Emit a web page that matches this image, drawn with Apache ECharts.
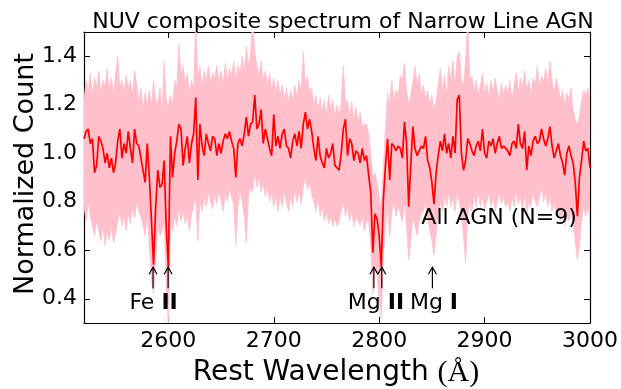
<!DOCTYPE html>
<html>
<head>
<meta charset="utf-8">
<script src="https://cdn.jsdelivr.net/npm/echarts@6/dist/echarts.min.js"></script>
<style>html,body{margin:0;padding:0;background:#fff}#c{width:621px;height:389px}</style>
</head>
<body>
<div id="c"></div>
<script>
// Wavelength grid (Angstrom)
const wavelength = [
2520,2522,2524,2526,2528,2530,2532,2534,2536,2538,2540,2542,2544,2546,2548,2550,2552,2554,2556,2558,
2560,2562,2564,2566,2568,2570,2572,2574,2576,2578,2580,2582,2584,2586,2588,2590,2592,2594,2596,2598,
2600,2602,2604,2606,2608,2610,2612,2614,2616,2618,2620,2622,2624,2626,2628,2630,2632,2634,2636,2638,
2640,2642,2644,2646,2648,2650,2652,2654,2656,2658,2660,2662,2664,2666,2668,2670,2672,2674,2676,2678,
2680,2682,2684,2686,2688,2690,2692,2694,2696,2698,2700,2702,2704,2706,2708,2710,2712,2714,2716,2718,
2720,2722,2724,2726,2728,2730,2732,2734,2736,2738,2740,2742,2744,2746,2748,2750,2752,2754,2756,2758,
2760,2762,2764,2766,2768,2770,2772,2774,2776,2778,2780,2782,2784,2786,2788,2790,2792,2794,2796,2798,
2800,2802,2804,2806,2808,2810,2812,2814,2816,2818,2820,2822,2824,2826,2828,2830,2832,2834,2836,2838,
2840,2842,2844,2846,2848,2850,2852,2854,2856,2858,2860,2862,2864,2866,2868,2870,2872,2874,2876,2878,
2880,2882,2884,2886,2888,2890,2892,2894,2896,2898,2900,2902,2904,2906,2908,2910,2912,2914,2916,2918,
2920,2922,2924,2926,2928,2930,2932,2934,2936,2938,2940,2942,2944,2946,2948,2950,2952,2954,2956,2958,
2960,2962,2964,2966,2968,2970,2972,2974,2976,2978,2980,2982,2984,2986,2988,2990,2992,2994,2996,2998,
3000];

// Composite (mean) normalized count
const meanFlux = [
1.06,1.09,1.10,1.04,1.06,0.92,0.95,1.07,1.05,1.02,0.96,1.00,0.94,0.98,0.92,0.96,1.05,1.10,0.98,1.04,
1.00,1.09,1.02,0.96,1.10,1.04,1.03,0.98,0.93,0.88,1.04,0.90,0.72,0.54,0.78,0.93,0.86,0.87,0.97,0.70,
0.53,1.07,0.90,1.00,1.05,1.12,1.10,0.95,1.02,1.07,0.96,1.04,1.08,1.23,0.89,1.12,1.03,0.99,1.08,1.04,
1.01,1.07,1.06,0.99,1.04,1.00,1.05,1.08,1.06,1.09,1.05,1.02,0.90,1.04,1.06,1.03,1.08,1.15,1.07,1.12,
1.13,1.24,1.10,1.12,1.18,1.04,1.10,1.06,1.02,0.99,1.16,1.03,1.07,1.02,1.08,1.10,1.03,1.02,0.98,1.05,
1.08,1.03,1.09,1.02,1.12,1.17,1.10,1.14,1.09,1.02,0.97,1.07,0.99,0.96,0.94,1.02,0.98,1.00,1.04,0.95,
0.94,0.93,1.00,1.10,1.14,0.99,1.06,1.04,0.97,1.01,1.00,0.96,1.02,0.97,0.99,0.91,0.84,0.59,0.75,0.73,
0.66,0.53,0.81,0.95,1.06,0.89,1.04,1.03,1.01,1.03,1.02,0.98,1.13,1.04,0.78,0.95,1.11,1.02,0.99,1.01,
1.03,1.02,1.07,0.97,0.94,0.88,0.79,0.92,0.99,1.05,1.01,1.08,1.00,1.04,0.98,1.07,1.00,1.22,1.24,1.00,
0.93,0.97,1.06,1.04,1.01,0.99,1.03,1.05,1.01,1.10,1.00,0.98,1.05,1.03,1.06,1.00,1.04,1.07,1.02,1.03,
1.02,1.01,0.99,1.04,1.05,1.02,1.12,1.04,1.02,1.09,0.93,1.03,0.99,1.05,1.07,1.04,1.05,1.10,1.06,1.03,
1.06,1.11,1.03,0.98,1.01,1.04,0.99,0.96,0.91,1.00,1.03,0.99,0.96,0.88,0.74,0.90,0.97,1.05,1.01,1.02,
0.94];

// Upper edge of the spread band
const bandUpper = [
1.22,1.30,1.26,1.33,1.24,1.31,1.27,1.34,1.25,1.30,1.28,1.35,1.26,1.31,1.24,1.33,1.40,1.27,1.30,1.25,
1.32,1.27,1.30,1.24,1.34,1.28,1.22,1.27,1.18,1.25,1.20,1.26,1.19,1.30,1.22,1.20,1.27,1.17,1.38,1.22,
1.20,1.24,1.20,1.30,1.26,1.45,1.32,1.36,1.28,1.33,1.25,1.30,1.27,1.55,1.31,1.36,1.28,1.34,1.30,1.36,
1.29,1.33,1.31,1.36,1.30,1.34,1.28,1.37,1.30,1.35,1.32,1.38,1.30,1.36,1.33,1.40,1.34,1.44,1.36,1.41,
1.55,1.42,1.36,1.32,1.38,1.30,1.34,1.28,1.33,1.26,1.31,1.25,1.30,1.24,1.28,1.22,1.27,1.21,1.26,1.22,
1.28,1.23,1.30,1.25,1.42,1.28,1.32,1.25,1.27,1.20,1.24,1.18,1.23,1.17,1.22,1.16,1.24,1.18,1.22,1.15,
1.20,1.16,1.21,1.36,1.20,1.22,1.15,1.21,1.14,1.19,1.13,1.17,1.11,1.12,1.12,1.08,1.00,0.90,0.92,0.88,
0.82,0.78,0.95,1.10,1.25,1.20,1.30,1.22,1.26,1.24,1.32,1.30,1.37,1.26,1.20,1.24,1.30,1.36,1.28,1.33,
1.24,1.28,1.22,1.26,1.20,1.24,1.18,1.22,1.28,1.35,1.26,1.32,1.24,1.36,1.30,1.38,1.28,1.40,1.42,1.30,
1.28,1.38,1.55,1.30,1.32,1.26,1.30,1.24,1.28,1.33,1.25,1.29,1.23,1.30,1.25,1.31,1.26,1.22,1.29,1.24,
1.28,1.24,1.30,1.22,1.28,1.33,1.25,1.31,1.27,1.34,1.26,1.30,1.24,1.31,1.28,1.36,1.27,1.32,1.29,1.35,
1.28,1.38,1.30,1.25,1.31,1.27,1.22,1.26,1.20,1.25,1.22,1.27,1.18,1.14,1.12,1.15,1.22,1.26,1.24,1.27,
1.22];

// Lower edge of the spread band
const bandLower = [
0.78,0.72,0.80,0.74,0.70,0.66,0.72,0.68,0.64,0.70,0.62,0.68,0.64,0.70,0.63,0.67,0.72,0.76,0.70,0.74,
0.68,0.75,0.71,0.78,0.73,0.80,0.76,0.74,0.70,0.66,0.74,0.62,0.48,0.42,0.56,0.70,0.66,0.68,0.72,0.45,
0.30,0.70,0.68,0.74,0.70,0.78,0.72,0.76,0.71,0.74,0.68,0.75,0.78,0.82,0.64,0.80,0.76,0.82,0.78,0.84,
0.80,0.77,0.83,0.79,0.85,0.80,0.76,0.84,0.80,0.86,0.82,0.79,0.62,0.78,0.84,0.80,0.74,0.63,0.82,0.86,
0.84,0.92,0.86,0.90,0.84,0.88,0.82,0.86,0.80,0.84,0.78,0.83,0.76,0.82,0.78,0.84,0.80,0.76,0.82,0.78,
0.85,0.80,0.84,0.79,0.86,0.90,0.85,0.88,0.83,0.80,0.76,0.82,0.74,0.78,0.72,0.76,0.71,0.74,0.70,0.73,
0.70,0.72,0.76,0.80,0.74,0.78,0.72,0.76,0.70,0.74,0.72,0.70,0.74,0.68,0.72,0.72,0.62,0.42,0.55,0.50,
0.40,0.32,0.58,0.70,0.78,0.66,0.76,0.80,0.74,0.78,0.75,0.72,0.80,0.70,0.56,0.64,0.74,0.70,0.66,0.72,
0.75,0.76,0.80,0.74,0.68,0.64,0.58,0.66,0.74,0.80,0.76,0.82,0.78,0.84,0.78,0.82,0.76,0.84,0.80,0.74,
0.66,0.55,0.74,0.80,0.76,0.82,0.78,0.84,0.78,0.82,0.77,0.80,0.84,0.78,0.82,0.76,0.80,0.84,0.79,0.82,
0.78,0.80,0.76,0.82,0.78,0.84,0.79,0.82,0.76,0.83,0.74,0.80,0.78,0.84,0.80,0.78,0.82,0.86,0.80,0.84,
0.78,0.82,0.76,0.80,0.74,0.78,0.72,0.76,0.70,0.75,0.72,0.76,0.70,0.64,0.56,0.62,0.72,0.78,0.74,0.78,
0.72];

// Absorption line markers (arrows)
const arrowWave = [2585.5, 2599.8, 2795, 2802.5, 2850.5];
const arrowTail = 0.443;
const arrowHead = 0.530;

// Line labels
const lineLabels = ['Fe {b|II}', 'Mg {b|II}', 'Mg {b|I}'];
const lineLabelWave = [2586, 2797, 2852];
const lineLabelY = 0.38;

const sampleLabel = 'All AGN (N=9)';
const sampleLabelPos = [2840, 0.73];

const titleText = 'NUV composite spectrum of Narrow Line AGN';
const xAxisTitle = 'Rest Wavelength ';
const yAxisTitle = 'Normalized Count';

const FONT = 'DejaVu Sans';

const chart = echarts.init(document.getElementById('c'), null, {renderer: 'canvas'});

const bandData = wavelength.map((w, i) => [w, bandLower[i], bandUpper[i]]);
const meanData = wavelength.map((w, i) => [w, meanFlux[i]]);
const arrowData = arrowWave.map(w => [w, arrowTail, arrowHead]);
const labelData = lineLabels.map((t, i) => [lineLabelWave[i], lineLabelY, i]);

const axisCommon = {
  type: 'value',
  axisLine: {show: true, onZero: false, lineStyle: {color: '#000', width: 1.2}},
  axisTick: {show: true, inside: true, length: 6, lineStyle: {color: '#000', width: 1}},
  splitLine: {show: false},
};

chart.setOption({
  animation: false,
  backgroundColor: '#fff',
  title: {
    text: titleText, left: 338, top: 6, textAlign: 'center',
    textStyle: {fontFamily: FONT, fontSize: 22, fontWeight: 'normal', color: '#000'}
  },
  grid: {left: 84, right: 31, top: 32, bottom: 66, containLabel: false},
  xAxis: [
    Object.assign({}, axisCommon, {
      position: 'bottom', min: 2520, max: 3000, splitNumber: 5,
      axisLabel: {show: true, margin: 7, fontFamily: FONT, fontSize: 22, color: '#000',
        showMinLabel: false, showMaxLabel: true, formatter: v => String(v)}
    }),
    Object.assign({}, axisCommon, {
      position: 'top', min: 2520, max: 3000, splitNumber: 5, axisLabel: {show: false}
    })
  ],
  yAxis: [
    Object.assign({}, axisCommon, {
      position: 'left', min: 0.3, max: 1.5, splitNumber: 6,
      axisLabel: {show: true, margin: 7, fontFamily: FONT, fontSize: 22, color: '#000',
        showMinLabel: false, showMaxLabel: false, formatter: v => v.toFixed(1)}
    }),
    Object.assign({}, axisCommon, {
      position: 'right', min: 0.3, max: 1.5, splitNumber: 6, axisLabel: {show: false}
    })
  ],
  series: [
    {
      // spread band: one polygon built from all samples through the axis scales
      type: 'custom', data: [[0]], silent: true, z: 1, clip: true,
      renderItem: function (params, api) {
        const top = bandData.map(d => api.coord([d[0], d[2]]));
        const bot = bandData.map(d => api.coord([d[0], d[1]])).reverse();
        return {
          type: 'polygon',
          shape: {points: top.concat(bot)},
          style: {fill: '#ffc0cb', stroke: '#ffc0cb', lineWidth: 0.8}
        };
      },
      encode: {x: -1, y: -1}
    },
    {
      type: 'line', data: meanData, symbol: 'none', silent: true,
      lineStyle: {width: 1.7, color: '#ff0000'}, z: 3, clip: true
    },
    {
      type: 'custom', data: arrowData, silent: true, z: 5, clip: false,
      renderItem: function (params, api) {
        const tail = api.coord([api.value(0), api.value(1)]);
        const head = api.coord([api.value(0), api.value(2)]);
        return {
          type: 'group',
          children: [
            {type: 'line', shape: {x1: tail[0], y1: tail[1], x2: head[0], y2: head[1]},
              style: {stroke: '#000', lineWidth: 1.2}},
            {type: 'polyline', shape: {points: [[head[0] - 4, head[1] + 7], [head[0], head[1]], [head[0] + 4, head[1] + 7]]},
              style: {stroke: '#000', lineWidth: 1.2, fill: null}}
          ]
        };
      }
    },
    {
      type: 'custom', data: labelData, silent: true, z: 6, clip: false,
      renderItem: function (params, api) {
        const p = api.coord([api.value(0), api.value(1)]);
        return {
          type: 'text',
          style: {
            text: lineLabels[api.value(2)], x: p[0], y: p[1], align: 'center', verticalAlign: 'middle',
            fontFamily: FONT, fontSize: 22, fill: '#000',
            rich: {b: {fontFamily: FONT, fontSize: 22, fontWeight: 'bold', fill: '#000'}}
          }
        };
      }
    },
    {
      type: 'custom', data: [sampleLabelPos], silent: true, z: 6, clip: false,
      renderItem: function (params, api) {
        const p = api.coord([api.value(0), api.value(1)]);
        return {
          type: 'text',
          style: {text: sampleLabel, x: p[0], y: p[1], align: 'left', verticalAlign: 'middle',
            fontFamily: FONT, fontSize: 22, fill: '#000'}
        };
      }
    }
  ],
  graphic: [
    {
      type: 'text', x: 336, y: 373,
      style: {
        text: xAxisTitle + '{s|(Å)}', x: 0, y: 0, align: 'center', verticalAlign: 'middle',
        fontFamily: FONT, fontSize: 28, fill: '#000',
        rich: {s: {fontFamily: 'Liberation Serif', fontSize: 30, fill: '#000'}}
      }
    },
    {
      type: 'text', rotation: Math.PI / 2, x: 26, y: 174,
      style: {text: yAxisTitle, x: 0, y: 0, align: 'center', verticalAlign: 'middle',
        fontFamily: FONT, fontSize: 27, fill: '#000'}
    }
  ]
});
</script>
</body>
</html>
